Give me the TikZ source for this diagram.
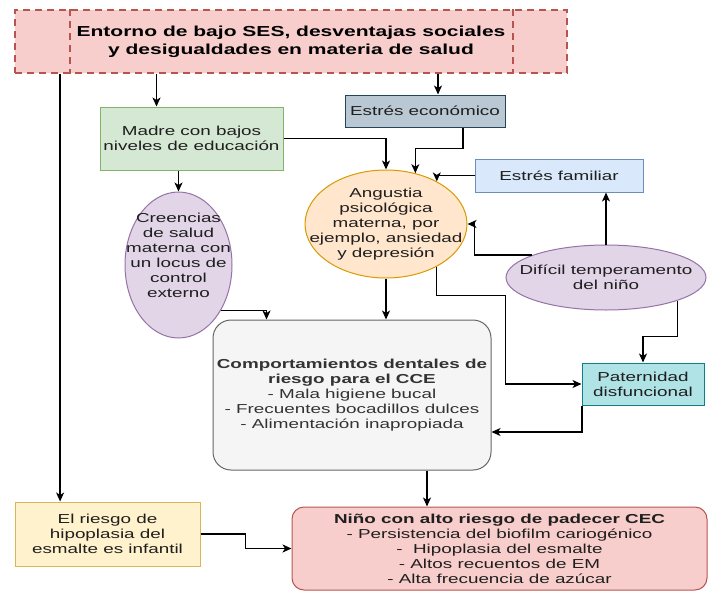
\documentclass[tikz,border=0pt]{standalone}
\usepackage{fontspec}
\setmainfont{Liberation Sans}[FakeStretch=1.45]
\usepackage{tikz}
\usetikzlibrary{arrows.meta, calc, shapes.geometric}
\definecolor{entornofill}{HTML}{F8CECC}
\definecolor{entornoline}{HTML}{B85450}
\definecolor{ecofill}{HTML}{BAC8D3}
\definecolor{ecoline}{HTML}{23445D}
\definecolor{madrefill}{HTML}{D5E8D4}
\definecolor{madreline}{HTML}{82B366}
\definecolor{angfill}{HTML}{FFE6CC}
\definecolor{angline}{HTML}{D79B00}
\definecolor{lilafill}{HTML}{E1D5E7}
\definecolor{lilaline}{HTML}{9673A6}
\definecolor{famfill}{HTML}{DAE8FC}
\definecolor{famline}{HTML}{6C8EBF}
\definecolor{compfill}{HTML}{F5F5F5}
\definecolor{compline}{HTML}{666666}
\definecolor{comptext}{HTML}{333333}
\definecolor{patfill}{HTML}{B0E3E6}
\definecolor{patline}{HTML}{0E8088}
\definecolor{riesgofill}{HTML}{FFF2CC}
\definecolor{riesgoline}{HTML}{D6B656}
\definecolor{textoscuro}{HTML}{1F1F1F}
\tikzset{
  texto/.style={align=center, inner sep=0pt, text=textoscuro, font=\fontsize{13}{15}\selectfont},
  caja/.style={draw, line width=1pt, align=center, inner sep=2pt, text=textoscuro,
               font=\fontsize{13}{15}\selectfont},
  elipse/.style={ellipse, draw, line width=1pt, inner sep=0pt},
  flecha/.style={-{Stealth[length=9pt, width=8pt, inset=2.5pt]}, line width=1.4pt},
  discontinua/.style={draw=entornoline, line width=1.8pt, dash pattern=on 7pt off 5pt}
}
\begin{document}
\begin{tikzpicture}[x=1pt, y=-1pt]
\useasboundingbox (0,0) rectangle (710,592);
% nodos
\node[caja, discontinua, fill=entornofill, text=black, minimum width=552pt, minimum height=63pt,
      font=\bfseries\fontsize{14.5}{18}\selectfont] (top) at (291,41.5)
  {Entorno de bajo SES, desventajas sociales\\y desigualdades en materia de salud};
\draw[discontinua] ([xshift=56pt]top.north west) -- ([xshift=56pt]top.south west);
\draw[discontinua] ([xshift=-55pt]top.north east) -- ([xshift=-55pt]top.south east);
\node[caja, fill=ecofill, draw=ecoline, minimum width=160pt, minimum height=32pt] (eco)
  at (425,111) {Estrés económico};
\node[caja, fill=madrefill, draw=madreline, minimum width=183pt, minimum height=63pt] (madre)
  at (191.5,138.5) {Madre con bajos\\niveles de educación};
\node[elipse, fill=angfill, draw=angline, minimum width=162pt, minimum height=108pt,
      label={[texto]center:{Angustia\\psicológica\\materna, por\\ejemplo, ansiedad\\y depresión}}]
  (angustia) at (386,224) {};
\node[elipse, fill=lilafill, draw=lilaline, minimum width=107pt, minimum height=146pt,
      label={[texto, yshift=10pt]center:{Creencias\\de salud\\materna con\\un locus de\\control\\externo}}]
  (creencias) at (178.5,265) {};
\node[caja, fill=famfill, draw=famline, minimum width=168pt, minimum height=33pt] (famil)
  at (559,175.5) {Estrés familiar};
\node[elipse, fill=lilafill, draw=lilaline, minimum width=200pt, minimum height=65pt,
      label={[texto]center:{Difícil temperamento\\del niño}}]
  (dificil) at (606,277.5) {};
\node[caja, fill=compfill, draw=compline, text=comptext, rounded corners=18pt,
      minimum width=278pt, minimum height=150pt] (comp) at (352,395)
  {\textbf{Comportamientos dentales de}\\\textbf{riesgo para el CCE}\\- Mala higiene bucal\\- Frecuentes bocadillos dulces\\- Alimentación inapropiada};
\node[caja, fill=patfill, draw=patline, minimum width=122pt, minimum height=42pt] (patern)
  at (643,384) {Paternidad\\disfuncional};
\node[caja, fill=riesgofill, draw=riesgoline, minimum width=185pt, minimum height=64pt] (riesgo)
  at (107.5,534) {El riesgo de\\hipoplasia del\\esmalte es infantil};
\node[caja, fill=entornofill, draw=entornoline, rounded corners=12pt,
      minimum width=415pt, minimum height=83pt] (nino) at (499.5,548.5)
  {\textbf{Niño con alto riesgo de padecer CEC}\\- Persistencia del biofilm cariogénico\\-~ Hipoplasia del esmalte\\- Altos recuentos de EM\\- Alta frecuencia de azúcar};
% conectores
\draw[flecha] ([xshift=46pt]top.south west) -- ([xshift=46pt]top.south west |- riesgo.north);
\draw[flecha] ([xshift=57pt]madre.north west |- top.south) -- ([xshift=57pt]madre.north west);
\draw[flecha] ([xshift=13pt]eco.north |- top.south) -- ([xshift=13pt]eco.north);
\draw[flecha] (madre.east) -| (angustia.north);
\draw[flecha] ([xshift=38pt]eco.south) -- ++(0,21) -| (angustia.60);
\draw[flecha] (famil.west) -| (angustia.40);
\draw[flecha] (dificil.north) -- (dificil.north |- famil.south);
\draw[flecha] (dificil.163) -- ++(-58,0) |- (angustia.east);
\draw[flecha] (angustia.-40) -- ++(0,29) -- ++(69,0) |- (patern.west);
\draw[flecha] (dificil.-18) -- ++(0,36) -| (patern.north);
\draw[flecha] ([xshift=0.5pt]patern.south west) |- ([yshift=-37pt]comp.east);
\draw[flecha] (madre.south -| creencias.north) -- (creencias.north);
\draw[flecha] (creencias.-47) -| ([xshift=54pt]comp.north west);
\draw[flecha] (angustia.south) -- (angustia.south |- comp.north);
\draw[flecha] ([xshift=75pt]comp.south) -- ([xshift=75pt]comp.south |- nino.north);
\draw[flecha] (riesgo.east) -- ++(45,0) |- (nino.west);
\end{tikzpicture}
\end{document}
